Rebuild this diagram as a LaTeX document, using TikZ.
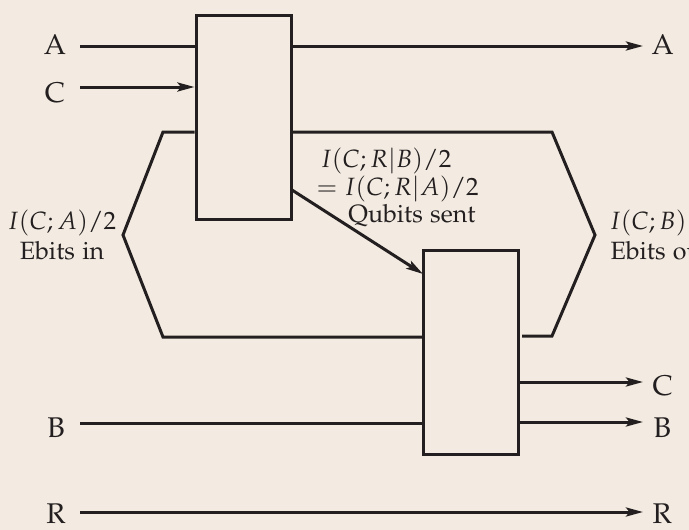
\documentclass[tikz,border=0pt]{standalone}
\usepackage[T1]{fontenc}
\usepackage{mathpazo}
\usetikzlibrary{arrows.meta}
\definecolor{bg}{RGB}{243,235,225}
\definecolor{ink}{RGB}{35,31,32}
\begin{document}
\begin{tikzpicture}[x=1pt,y=-1pt,
  line width=3pt, draw=ink,
  every node/.style={font=\fontfamily{pplx}\fontsize{25}{30}\selectfont, text=ink, inner sep=0pt},
  gate/.style={draw=ink, line width=3pt, minimum width=95pt, minimum height=204pt},
  wire/.style={draw=ink, line width=3pt},
  arr/.style={wire, -{Stealth[length=17pt,width=9pt,inset=3.5pt]}},
  lbl/.style={anchor=base, font=\fontfamily{pplx}\fontsize{28.5}{32}\selectfont}]
\useasboundingbox[fill=bg] (0,0) rectangle (689,530);
% gates
\node[gate] (g1) at (243.5,117) {};
\node[gate] (g2) at (471,352) {};
% left labels
\node[lbl] (lA) at (55,54) {A};
\node[lbl] (lC) at (55,102) {C};
\node[lbl] (lB) at (56,437) {B};
\node[lbl] (lR) at (56,523) {R};
% right labels
\node[lbl,anchor=base west] (rA) at (650,54) {A};
\node[lbl,anchor=base west] (rC) at (651,395) {C};
\node[lbl,anchor=base west] (rB) at (652,437) {B};
\node[lbl,anchor=base west] (rR) at (651,523) {R};
% wire end coordinates
\coordinate (aS) at (80,46);
\coordinate (cS) at (80,87);
\coordinate (bS) at (80,423);
\coordinate (rS) at (80,512);
\coordinate (aE) at (643,46);
\coordinate (cE) at (643,382);
\coordinate (bE) at (643,422);
\coordinate (rE) at (643,512);
% wires
\draw[wire] (aS) -- (aS -| g1.west);
\draw[arr] (aS -| g1.east) -- (aE);
\draw[arr] (cS) -- (cS -| g1.west);
\draw[wire] (bS) -- (bS -| g2.west);
\draw[arr] (cE -| g2.east) -- (cE);
\draw[arr] (bE -| g2.east) -- (bE);
\draw[arr] (rS) -- (rE);
% ebit loops
\coordinate (lt) at (163,132);
\coordinate (lm) at (123,235);
\coordinate (lb) at (163,337);
\coordinate (rt) at (552,132);
\coordinate (rm) at (595,235);
\coordinate (rb) at (552,336);
\coordinate (rg) at (522,336);
\draw[wire, line join=miter] (lt -| g1.west) -- (lt) -- (lm) -- (lb) -- (lb -| g2.west);
\draw[wire, line join=miter] (rt -| g1.east) -- (rt) -- (rm) -- (rb) -- (rg);
% qubit arrow
\coordinate (qs) at (292,190);
\coordinate (qe) at (423,274);
\draw[arr] (qs) -- (qe);
% texts
\node[anchor=base west] (q1) at (319,167) {$I(C;R|B)/2$};
\node[anchor=base west] (q2) at (315,195) {$= I(C;R|A)/2$};
\node[anchor=base east] (q3) at (477,222) {Qubits sent};
\node[anchor=base west] (e1) at (6,229) {$I(C;A)/2$};
\node[anchor=base] (e2) at (62,259) {Ebits in};
\node[anchor=base west] (f1) at (608,229) {$I(C;B)/2$};
\node[anchor=base west] (f2) at (609,259) {Ebits out};
\end{tikzpicture}
\end{document}
